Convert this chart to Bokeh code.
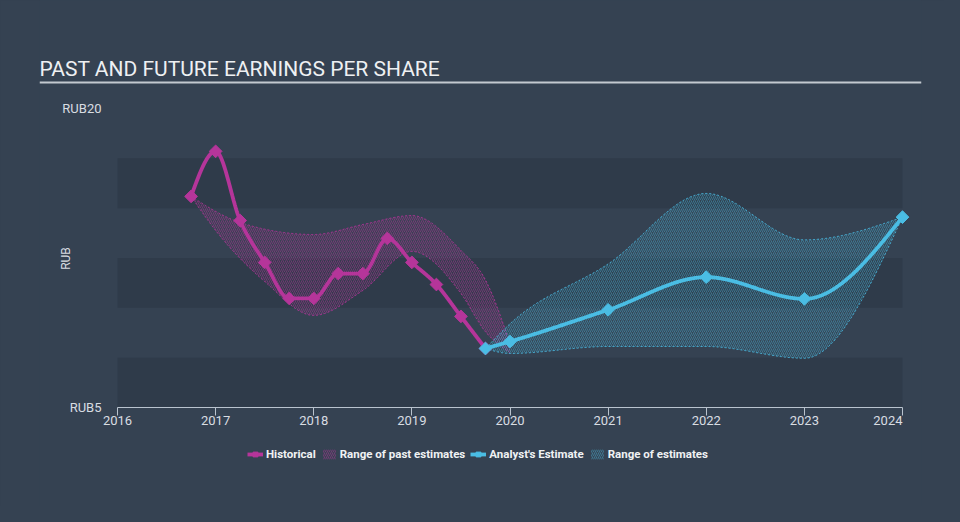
import numpy as np
from bokeh.plotting import figure
from bokeh.models import (Range1d, FixedTicker, PrintfTickFormatter, Legend, LegendItem,
                          BoxAnnotation, Label, Span, LinearAxis)
from bokeh.embed import file_html
from bokeh.resources import INLINE

# ---------------- data ----------------
title_text = "PAST AND FUTURE EARNINGS PER SHARE"
y_title = "RUB"
tick_years = [2016, 2017, 2018, 2019, 2020, 2021, 2022, 2023, 2024]
y_ticks = [5, 20]
band_edges = [(5, 7.5), (10, 12.5), (15, 17.5)]

hist_x = [2016.75, 2017.0, 2017.25, 2017.5, 2017.75, 2018.0, 2018.25, 2018.5,
          2018.75, 2019.0, 2019.25, 2019.5, 2019.75]
hist_y = [15.59, 17.85, 14.38, 12.28, 10.47, 10.47, 11.72, 11.72,
          13.48, 12.28, 11.17, 9.57, 7.96]

past_up_x = [2016.75, 2017.25, 2018.0, 2018.5, 2019.0, 2019.5, 2019.75, 2020.0]
past_up_y = [15.59, 14.28, 13.68, 14.18, 14.63, 12.88, 11.4, 8.2]
past_lo_x = [2016.75, 2017.0, 2017.5, 2018.0, 2018.5, 2019.0, 2019.5, 2019.75, 2020.0]
past_lo_y = [15.59, 13.88, 11.32, 9.62, 10.87, 12.83, 10.72, 8.8, 7.75]

est_x = [2019.75, 2020.0, 2021.0, 2022.0, 2023.0, 2024.0]
est_y = [7.96, 8.31, 9.90, 11.54, 10.45, 14.55]
est_up = [7.96, 9.2, 12.2, 15.74, 13.41, 14.55]
est_lo = [7.96, 7.71, 8.06, 8.06, 7.47, 14.55]

MAGENTA = "#b5359a"
BLUE = "#4abde4"
BG = "#354252"
BAND = "#2f3b4a"
TEXT = "#d9dde2"

# ---------------- layout (pixels on the page) ----------------
W, H = 944, 506
FRAME_L, FRAME_R = 39, 921          # plot frame spans the title rule
AX_X0, AX_X1 = 117, 902             # pixel of first / last year tick
AX_Y0, AX_Y1 = 407, 108             # pixel of lowest / highest y tick
xpp = (AX_X1 - AX_X0) / (tick_years[-1] - tick_years[0])
ypp = (AX_Y0 - AX_Y1) / (y_ticks[-1] - y_ticks[0])


def xv(px):
    return tick_years[0] + (px - AX_X0) / xpp


def yv(py):
    return y_ticks[0] + (AX_Y0 - py) / ypp


# monotone cubic (same rule as d3 curveMonotoneX), used only to draw smooth curves
def mono_slopes(xk, yk):
    xk = np.asarray(xk, float); yk = np.asarray(yk, float)
    n = len(xk)
    h = np.diff(xk); s = np.diff(yk) / h
    t = np.zeros(n)
    for i in range(1, n - 1):
        h0, h1, s0, s1 = h[i - 1], h[i], s[i - 1], s[i]
        p_ = (s0 * h1 + s1 * h0) / (h0 + h1)
        t[i] = (np.sign(s0) + np.sign(s1)) * min(abs(s0), abs(s1), 0.5 * abs(p_))
    if n > 2:
        t[0] = (3 * s[0] - t[1]) / 2
        t[-1] = (3 * s[-1] - t[-2]) / 2
    else:
        t[0] = t[-1] = s[0]
    return t


def mono_eval(xk, yk, xs):
    xk = np.asarray(xk, float); yk = np.asarray(yk, float)
    t = mono_slopes(xk, yk)
    xs = np.asarray(xs, float)
    idx = np.clip(np.searchsorted(xk, xs, side="right") - 1, 0, len(xk) - 2)
    h = xk[idx + 1] - xk[idx]
    u = (xs - xk[idx]) / h
    h00 = 2 * u**3 - 3 * u**2 + 1
    h10 = u**3 - 2 * u**2 + u
    h01 = -2 * u**3 + 3 * u**2
    h11 = u**3 - u**2
    return h00 * yk[idx] + h10 * h * t[idx] + h01 * yk[idx + 1] + h11 * h * t[idx + 1]


# ---------------- chart ----------------
p = figure(width=W, height=H,
           x_range=Range1d(xv(FRAME_L), xv(FRAME_R)),
           y_range=Range1d(yv(H), yv(0)),
           x_axis_location=None, y_axis_location=None,
           output_backend="svg", toolbar_location=None, min_border=0)
p.min_border_left = FRAME_L
p.min_border_right = W - FRAME_R
p.min_border_top = 0
p.min_border_bottom = 0
p.background_fill_color = BG
p.border_fill_color = BG
p.outline_line_color = None
p.grid.visible = False

# title and its rule
p.add_layout(Label(x=xv(FRAME_L), y=yv(68), text=title_text,
                   text_font="Roboto", text_font_size="21px", text_color="#eef0f2",
                   text_baseline="middle", text_align="left"))
p.add_layout(Span(location=yv(82), dimension="width", line_color="#c3c9d0", line_width=2))

# background bands
for lo, hi in band_edges:
    p.add_layout(BoxAnnotation(left=tick_years[0], right=tick_years[-1], bottom=lo, top=hi,
                               fill_color=BAND, fill_alpha=1.0, line_color=None,
                               level="underlay"))

# past range
gx = np.linspace(past_up_x[0], past_up_x[-1], 400)
pu = mono_eval(past_up_x, past_up_y, gx)
pl = mono_eval(past_lo_x, past_lo_y, gx)
past_area = p.varea(x=gx, y1=pl, y2=pu, fill_color=MAGENTA, fill_alpha=0.05,
                    hatch_pattern="/", hatch_color=MAGENTA, hatch_alpha=0.45,
                    hatch_scale=4, hatch_weight=1)
p.line(gx, pu, line_color=MAGENTA, line_width=1, line_dash="2 2", line_alpha=0.9)
p.line(gx, pl, line_color=MAGENTA, line_width=1, line_dash="2 2", line_alpha=0.9)

# future range
fx = np.linspace(est_x[0], est_x[-1], 500)
fu = mono_eval(est_x, est_up, fx)
fl = mono_eval(est_x, est_lo, fx)
fut_area = p.varea(x=fx, y1=fl, y2=fu, fill_color=BLUE, fill_alpha=0.05,
                   hatch_pattern="/", hatch_color=BLUE, hatch_alpha=0.4,
                   hatch_scale=4, hatch_weight=1)
p.line(fx, fu, line_color=BLUE, line_width=1, line_dash="2 2", line_alpha=0.9)
p.line(fx, fl, line_color=BLUE, line_width=1, line_dash="2 2", line_alpha=0.9)

# historical line
hx = np.linspace(hist_x[0], hist_x[-1], 600)
hy = mono_eval(hist_x, hist_y, hx)
h_line = p.line(hx, hy, line_color=MAGENTA, line_width=3.8)
h_mark = p.scatter(hist_x, hist_y, marker="square", angle=np.pi / 4, size=9,
                   fill_color=MAGENTA, line_color=MAGENTA)

# estimate line
ex = np.linspace(est_x[0], est_x[-1], 600)
ey = mono_eval(est_x, est_y, ex)
e_line = p.line(ex, ey, line_color=BLUE, line_width=3.8)
e_mark = p.scatter(est_x, est_y, marker="square", angle=np.pi / 4, size=9,
                   fill_color=BLUE, line_color=BLUE)

# axes (drawn at fixed data positions inside the frame)
xa = LinearAxis(fixed_location=y_ticks[0], bounds=(tick_years[0], tick_years[-1]),
                ticker=FixedTicker(ticks=tick_years))
overrides = {yr: str(yr) for yr in tick_years}
overrides[tick_years[-1]] = ""      # last label is drawn right-aligned below
xa.major_label_overrides = overrides
xa.axis_line_color = "#b9c3ce"
xa.major_tick_line_color = "#b9c3ce"
xa.major_tick_out = 8
xa.major_tick_in = 0
xa.minor_tick_line_color = None
xa.major_label_standoff = 0
xa.major_label_text_color = TEXT
xa.major_label_text_font = "Roboto"
xa.major_label_text_font_size = "13px"
p.add_layout(xa, "below")

p.add_layout(Label(x=tick_years[-1], y=yv(AX_Y0 + 8), text=str(tick_years[-1]),
                   text_font="Roboto", text_font_size="13px", text_color=TEXT,
                   text_align="right", text_baseline="top"))

ya = LinearAxis(fixed_location=tick_years[0], bounds=(y_ticks[0], y_ticks[-1]),
                ticker=FixedTicker(ticks=y_ticks),
                formatter=PrintfTickFormatter(format="RUB%d"))
ya.axis_line_color = None
ya.major_tick_line_color = None
ya.minor_tick_line_color = None
ya.major_label_standoff = 10
ya.major_label_text_color = TEXT
ya.major_label_text_font = "Roboto"
ya.major_label_text_font_size = "13px"
p.add_layout(ya, "left")

p.add_layout(Label(x=xv(65), y=yv(258), text=y_title, angle=np.pi / 2,
                   text_font="Roboto", text_font_size="12px", text_color=TEXT,
                   text_align="center", text_baseline="middle"))

legend = Legend(items=[
    LegendItem(label="Historical", renderers=[h_line, h_mark]),
    LegendItem(label="Range of past estimates", renderers=[past_area]),
    LegendItem(label="Analyst's Estimate", renderers=[e_line, e_mark]),
    LegendItem(label="Range of estimates", renderers=[fut_area]),
], orientation="horizontal", location=(208, 45),
    background_fill_alpha=0, border_line_color=None,
    label_text_color="#f0f2f4", label_text_font="Roboto", label_text_font_style="bold",
    label_text_font_size="11.5px", glyph_width=16, glyph_height=12,
    label_standoff=3, spacing=5, padding=5, margin=0)
p.add_layout(legend, "center")

html = file_html(p, INLINE)
html = html.replace("<body>", '<body style="background-color:%s;">' % BG)
open("out.html", "w").write(html)
